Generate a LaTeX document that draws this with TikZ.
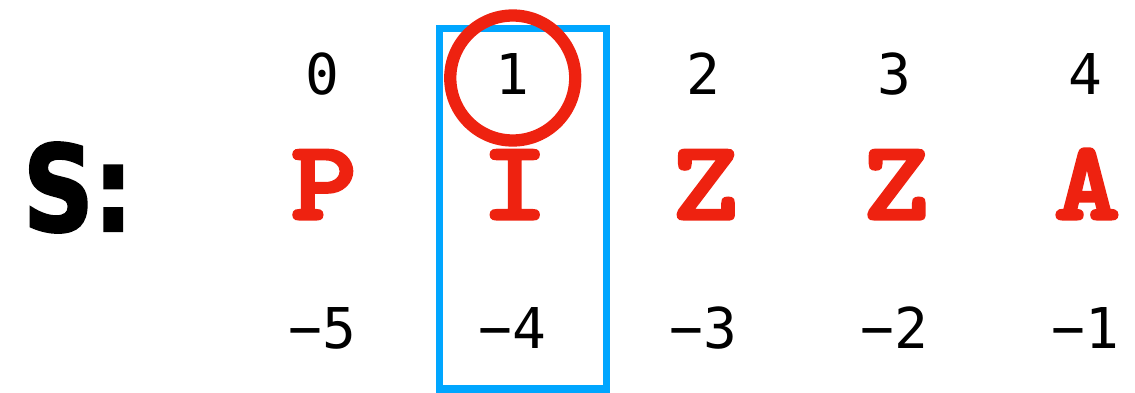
\documentclass[tikz,border=0pt]{standalone}
\usepackage{fontspec}
\usetikzlibrary{calc}
\newfontfamily\idxfont{DejaVu Sans Mono}
\newfontfamily\chrfont{lmmonolt10-bold.otf}[FakeBold=3, FakeStretch=1.12]
\newfontfamily\lblfont{DejaVu Sans}[UprightFont=* Bold, FakeBold=2, FakeStretch=0.82]
\definecolor{sRed}{HTML}{EE2210}
\definecolor{sBlue}{HTML}{00A6FF}

\begin{document}
\begin{tikzpicture}[x=0.02cm, y=-0.02cm, every node/.style={inner sep=0pt, anchor=base}]
    \useasboundingbox (0,0) rectangle (1135,392);
    \node (lbl) at (78,231) {\lblfont\fontsize{68}{70}\selectfont S:};
    \foreach \c/\n [count=\i from 0] in {P/5, I/4, Z/3, Z/2, A/1} {
      \node (idx\i) at (322+190.75*\i,94) {\idxfont\fontsize{32}{34}\selectfont \i};
      \node[text=sRed] (chr\i) at (324+190.75*\i,219) {\chrfont\fontsize{64}{66}\selectfont \c};
      \node (neg\i) at (322+190.75*\i,348) {\idxfont\fontsize{32}{34}\selectfont −\n};
    }
    \draw[sBlue, line width=4pt] ($(idx1.base)+(-73,-65.5)$) rectangle ($(neg1.base)+(93.5,41)$);
    \draw[sRed, line width=7pt] ($(idx1.base)+(0,-16)$) circle[radius=1.25cm];
  \end{tikzpicture}
\end{document}
